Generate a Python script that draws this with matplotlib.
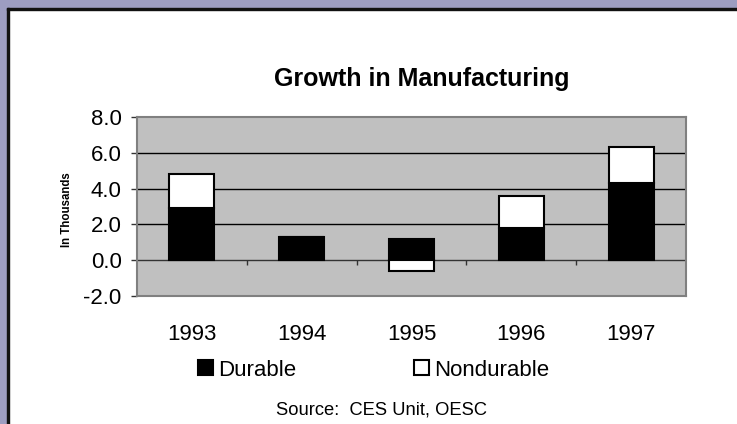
import numpy as np
import matplotlib.pyplot as plt
from matplotlib.patches import Rectangle

years = ["1993", "1994", "1995", "1996", "1997"]
durable = [2.9, 1.3, 1.2, 1.8, 4.3]
nondurable = [1.9, 0.0, -0.6, 1.8, 2.0]

plt.rcParams["font.family"] = ["Liberation Sans", "DejaVu Sans"]

fig = plt.figure(figsize=(7.37, 4.24), dpi=100, facecolor="white")

# window-like frame on the left and top
W, H = 737.0, 424.0
lav = "#9d9dc1"
fig.patches.append(Rectangle((0, 0), 7 / W, 1, transform=fig.transFigure, color=lav, zorder=0))
fig.patches.append(Rectangle((0, 1 - 8 / H), 1, 8 / H, transform=fig.transFigure, color=lav, zorder=0))
fig.patches.append(Rectangle((7 / W, 0), 2 / W, 1 - 8 / H, transform=fig.transFigure, color="#111111", zorder=1))
fig.patches.append(Rectangle((7 / W, 1 - 10 / H), 1, 2 / H, transform=fig.transFigure, color="#111111", zorder=1))

ax = fig.add_axes([137 / W, 1 - 296 / H, 549 / W, 179 / H])
ax.set_facecolor("#c0c0c0")

x = np.arange(1, len(years) + 1)
dur = np.array(durable)
nond = np.array(nondurable)
base = np.where(nond >= 0, dur, 0)
width = 0.41
b1 = ax.bar(x, dur, width, color="black", edgecolor="black", linewidth=1.5, zorder=3, label="Durable")
b2 = ax.bar(x, nond, width, bottom=base, color="white", edgecolor="black", linewidth=1.5, zorder=3,
            label="Nondurable")

ax.set_xlim(0.5, 5.5)
ax.set_ylim(-2, 8)
ax.set_yticks([-2, 0, 2, 4, 6, 8])
ax.set_yticklabels([f"{v:.1f}" for v in [-2, 0, 2, 4, 6, 8]], fontsize=16)
for v in [2, 4, 6]:
    ax.axhline(v, color="black", linewidth=1.0, zorder=1)
ax.axhline(0, color="#333333", linewidth=1.0, zorder=2)
ax.vlines(np.arange(1.5, 6, 1.0), -0.25, 0, color="#333333", linewidth=1.0, zorder=2)

ax.set_xticks(x)
ax.set_xticklabels(years, fontsize=16)
ax.tick_params(axis="x", length=0, pad=20)
ax.tick_params(axis="y", length=4, width=1, color="#333333", pad=7)
for s in ax.spines.values():
    s.set_color("#808080")
    s.set_linewidth(1.5)

ax.set_title("Growth in Manufacturing", fontsize=18, fontweight="bold", pad=22, x=0.518)
fig.text(67 / W, 1 - 210 / H, "In Thousands", rotation=90, fontsize=8.3, fontweight="bold",
         ha="center", va="center")

fig.legend(handles=[b1, b2], labels=["Durable", "Nondurable"], loc="center left",
           bbox_to_anchor=(178 / W, 1 - 370 / H), ncol=2, frameon=False, fontsize=16,
           handlelength=0.68, handleheight=0.68, handletextpad=0.23, columnspacing=5.3)

fig.text(382 / W, 1 - 410 / H, "Source:  CES Unit, OESC", fontsize=13.2, ha="center", va="center")

fig.savefig("out.png", dpi=100, facecolor="white")
